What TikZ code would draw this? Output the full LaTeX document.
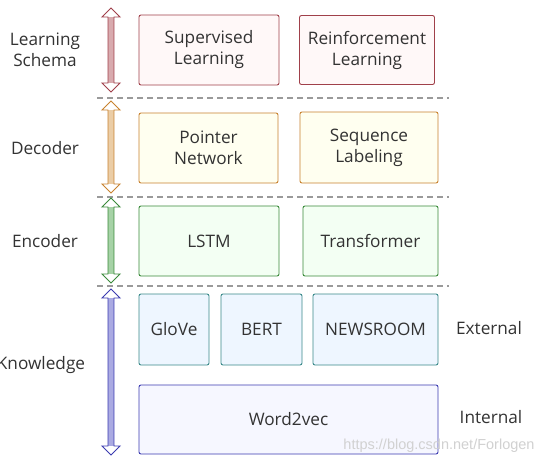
\documentclass[tikz,border=0pt]{standalone}
\usepackage{fontspec}
\setmainfont{Open Sans}
\newfontfamily\wmfont{Liberation Sans}
\definecolor{txt}{HTML}{333333}
\definecolor{lsB}{HTML}{A0404A}\definecolor{lsF}{HTML}{FFF8F8}\definecolor{lsA}{HTML}{D8AAAE}
\definecolor{deB}{HTML}{C8822F}\definecolor{deF}{HTML}{FFFFF0}\definecolor{deA}{HTML}{EBCDA6}
\definecolor{enB}{HTML}{3A8A3A}\definecolor{enF}{HTML}{F3FFF3}\definecolor{enA}{HTML}{A6D2A6}
\definecolor{exB}{HTML}{3A8A8A}\definecolor{exF}{HTML}{EEF6FF}
\definecolor{inB}{HTML}{3B3BB0}\definecolor{inF}{HTML}{F6F7FF}\definecolor{inA}{HTML}{AAAAE2}
\definecolor{sepgray}{HTML}{9A9A9A}
\newcommand\layerarrow[4]{%
  \fill[white]
    (111,#1) -- (120,#1+9) -- (114,#1+9) -- (114,#2-9) -- (120,#2-9) -- (111,#2)
    -- (102,#2-9) -- (108,#2-9) -- (108,#1+9) -- (102,#1+9) -- cycle;
  \fill[#3] (108,#1+9) rectangle (114,#2-9);
  \draw[#4, line width=0.9pt, line join=miter]
    (111,#1) -- (120,#1+9) -- (114,#1+9) -- (114,#2-9) -- (120,#2-9) -- (111,#2)
    -- (102,#2-9) -- (108,#2-9) -- (108,#1+9) -- (102,#1+9) -- cycle;}
\tikzset{
  box/.style={draw, rounded corners=2pt, line width=0.9pt, align=center, inner sep=0pt,
    text=txt, font=\fontsize{17.2}{21}\selectfont},
  lbl/.style={align=center, text=txt, font=\fontsize{17.2}{21}\selectfont},
  sep/.style={draw=sepgray, dashed, dash pattern=on 6pt off 4pt, line width=1.3pt}
}
\begin{document}
\begin{tikzpicture}[x=1pt,y=-1pt]
\useasboundingbox[fill=white] (0,0) rectangle (552,464);
% layer separators
\coordinate (s1a) at (97,98);  \coordinate (s1b) at (449,98);
\coordinate (s2a) at (97,197); \coordinate (s2b) at (449,197);
\coordinate (s3a) at (97,286); \coordinate (s3b) at (449,286);
\draw[sep] (s1a) -- (s1b);
\draw[sep] (s2a) -- (s2b);
\draw[sep] (s3a) -- (s3b);
% arrows
\layerarrow{8}{92}{lsA}{lsB}
\layerarrow{101}{193}{deA}{deB}
\layerarrow{198}{283}{enA}{enB}
\layerarrow{289}{455}{inA}{inB}
% learning schema
\node[box, draw=lsB, fill=lsF, minimum width=140, minimum height=70] (sl) at (209,50) {Supervised\\Learning};
\node[box, draw=lsB, fill=lsF, minimum width=135, minimum height=69] (rl) at (367,50) {Reinforcement\\Learning};
% decoder
\node[box, draw=deB, fill=deF, minimum width=139, minimum height=70] (pn) at (208.5,148) {Pointer\\Network};
\node[box, draw=deB, fill=deF, minimum width=138, minimum height=71] (sq) at (369,147.5) {Sequence\\Labeling};
% encoder
\node[box, draw=enB, fill=enF, minimum width=140, minimum height=70] (lstm) at (209,241) {LSTM};
\node[box, draw=enB, fill=enF, minimum width=135, minimum height=70] (tr) at (370.5,241) {Transformer};
% knowledge
\node[box, draw=exB, fill=exF, minimum width=70, minimum height=71] (glove) at (174,329.5) {GloVe};
\node[box, draw=exB, fill=exF, minimum width=81, minimum height=71] (bert) at (261.5,329.5) {BERT};
\node[box, draw=exB, fill=exF, minimum width=125, minimum height=71] (news) at (375.5,329.5) {NEWSROOM};
\node[box, draw=inB, fill=inF, minimum width=299, minimum height=69] (w2v) at (288.5,419.5) {Word2vec};
% labels
\node[lbl] (lLS) at (45,50) {Learning\\Schema};
\node[lbl] (lDe) at (45,148) {Decoder};
\node[lbl] (lEn) at (45,241) {Encoder};
\node[lbl] (lKn) at (41,365) {Knowledge};
\node[lbl] (lEx) at (489,328) {External};
\node[lbl] (lIn) at (491,417) {Internal};
% watermark
\node[text=black!18, font=\wmfont\fontsize{14.5}{16}\selectfont] (wm) at (439,446) {https://blog.csdn.net/Forlogen};
\end{tikzpicture}
\end{document}
